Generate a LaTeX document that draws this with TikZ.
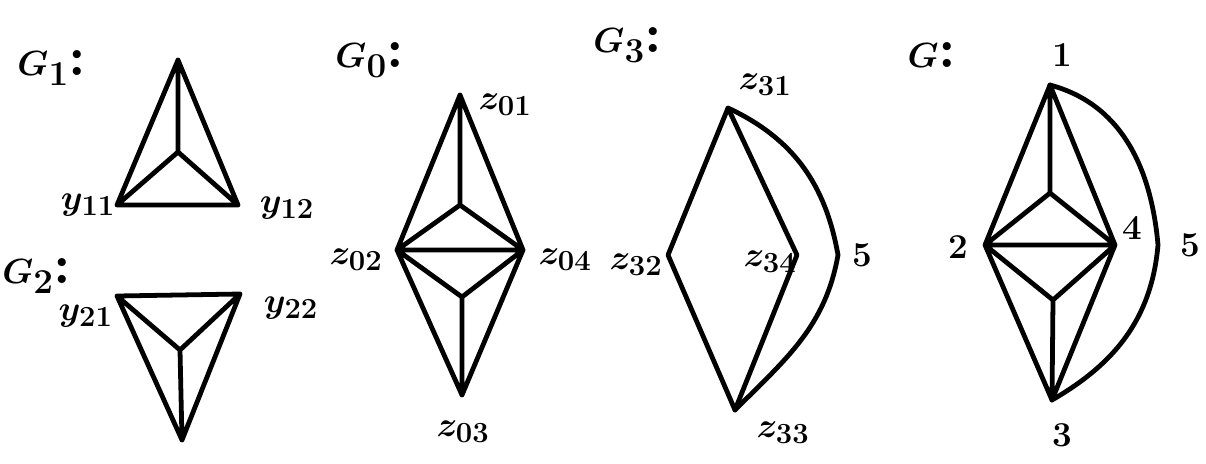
\documentclass[tikz,border=0pt]{standalone}
\begin{document}
\begin{tikzpicture}[x=0.025cm,y=-0.025cm,
  edge/.style={line width=3.4pt,line cap=round,line join=round},
  lab/.style={inner sep=0pt,font=\fontsize{30}{32}\selectfont\boldmath},
  glab/.style={inner sep=0pt,font=\fontsize{40}{42}\selectfont\bfseries\boldmath}]
\useasboundingbox (0,0) rectangle (1206,463);
% ---------- G1 ----------
\node[glab] (g1) at (52,68) {$G_1$:};
\coordinate (a1) at (178,60);
\coordinate (a2) at (117,205);
\coordinate (a3) at (238,205);
\coordinate (ac) at (178,152);
\draw[edge] (a1)--(a2)--(a3)--cycle (a1)--(ac) (ac)--(a2) (ac)--(a3);
\node[lab] (y11) at (88,205) {$y_{11}$};
\node[lab] (y12) at (287,208) {$y_{12}$};
% ---------- G2 ----------
\node[glab,anchor=west] (g2) at (2,276) {$G_2$:};
\coordinate (b1) at (117,296);
\coordinate (b2) at (240,294);
\coordinate (b3) at (182,440);
\coordinate (bc) at (180,350);
\draw[edge] (b1)--(b2)--(b3)--cycle (b3)--(bc) (bc)--(b1) (bc)--(b2);
\node[lab,anchor=east] (y21) at (113,316) {$y_{21}$};
\node[lab] (y22) at (291,308) {$y_{22}$};
% ---------- G0 ----------
\node[glab] (g0) at (370,60) {$G_0$:};
\coordinate (z01) at (460,95);
\coordinate (z02) at (397,250);
\coordinate (z04) at (523,250);
\coordinate (z03) at (462,395);
\coordinate (it) at (460,205);
\coordinate (ib) at (462,297);
\draw[edge] (z01)--(z02)--(z03)--(z04)--cycle (z02)--(z04)
  (z01)--(it) (it)--(z02) (it)--(z04)
  (z03)--(ib) (ib)--(z02) (ib)--(z04);
\node[lab] (lz01) at (505,105) {$z_{01}$};
\node[lab] (lz02) at (356,260) {$z_{02}$};
\node[lab] (lz04) at (565,260) {$z_{04}$};
\node[lab] (lz03) at (463,432) {$z_{03}$};
% ---------- G3 ----------
\node[glab] (g3) at (628,45) {$G_3$:};
\coordinate (z31) at (728,108);
\coordinate (z32) at (668,255);
\coordinate (z34) at (797,255);
\coordinate (z33) at (735,410);
\coordinate (v35) at (838,255);
\draw[edge] (z31)--(z32)--(z33)--(z34)--cycle;
\draw[edge] (z31) to[out=-25,in=100] (v35) to[out=-100,in=45] (z33);
\node[lab] (lz31) at (765,85) {$z_{31}$};
\node[lab] (lz32) at (636,265) {$z_{32}$};
\node[lab] (lz34) at (770,262) {$z_{34}$};
\node[lab] (lz33) at (783,433) {$z_{33}$};
\node[lab] (l35) at (862,255) {$5$};
% ---------- G ----------
\node[glab] (g) at (932,55) {$G$:};
\coordinate (v1) at (1050,85);
\coordinate (v2) at (985,245);
\coordinate (v4) at (1115,245);
\coordinate (v3) at (1052,400);
\coordinate (v5) at (1158,245);
\coordinate (jt) at (1050,193);
\coordinate (jb) at (1053,300);
\draw[edge] (v1)--(v2)--(v3)--(v4)--cycle (v2)--(v4)
  (v1)--(jt) (jt)--(v2) (jt)--(v4)
  (v3)--(jb) (jb)--(v2) (jb)--(v4);
\draw[edge] (v1) to[out=-15,in=95] (v5) to[out=-95,in=30] (v3);
\node[lab] (l1) at (1062,55) {$1$};
\node[lab] (l2) at (958,247) {$2$};
\node[lab] (l4) at (1132,228) {$4$};
\node[lab] (l5) at (1190,245) {$5$};
\node[lab] (l3) at (1062,435) {$3$};
\end{tikzpicture}
\end{document}
